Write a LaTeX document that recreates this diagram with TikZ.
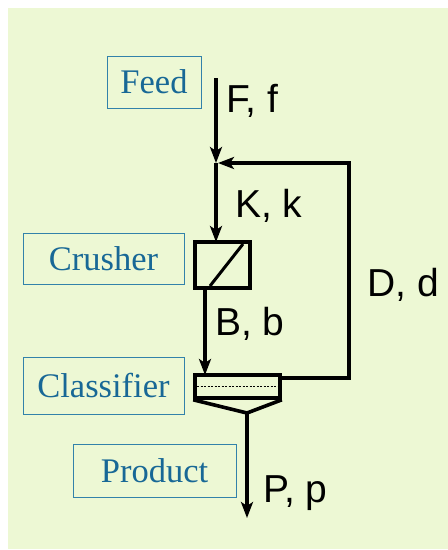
\documentclass[tikz,border=0pt]{standalone}
\usepackage{fontspec}
\setmainfont{Liberation Serif}
\newfontfamily\arialf{Liberation Sans}
\usetikzlibrary{arrows.meta}
\definecolor{bggreen}{RGB}{237,248,212}
\definecolor{tealtext}{RGB}{24,104,150}
\definecolor{tealline}{RGB}{50,130,170}
\begin{document}
\begin{tikzpicture}[x=1pt,y=-1pt,
  namebox/.style={draw=tealline,line width=0.9pt,text=tealtext,inner sep=0pt,
    font=\fontsize{34.5}{34.5}\selectfont},
  flowlabel/.style={anchor=base west,inner sep=0pt,font=\arialf\fontsize{39}{39}\selectfont},
  unit/.style={draw=black,line width=3.6pt},
  flow/.style={draw=black,line width=3.6pt,-{Stealth[length=16pt,width=12pt,inset=4pt]}},
  pipe/.style={draw=black,line width=3.6pt}]
\useasboundingbox (0,0) rectangle (448,550);
\fill[white] (0,0) rectangle (448,550);
\fill[bggreen] (8,8) rectangle (448,549);
% name boxes
\node[namebox,minimum width=94pt,minimum height=52pt] (feed) at (154,82) {Feed};
\node[namebox,minimum width=161pt,minimum height=51pt] (crusherlbl) at (103.5,258.5) {Crusher};
\node[namebox,minimum width=161pt,minimum height=57pt] (classlbl) at (103.5,385.5) {Classifier};
\node[namebox,minimum width=163pt,minimum height=53pt] (productlbl) at (154.5,470.5) {Product};
% crusher unit
\node[unit,minimum width=55pt,minimum height=46pt,inner sep=0pt] (crusher) at (222.5,265) {};
\draw[line width=3pt] (210,286) -- (243,244);
% classifier unit
\node[unit,minimum width=85pt,minimum height=23pt,inner sep=0pt] (classifier) at (237.5,386.5) {};
\draw[line width=0.7pt,dash pattern=on 2pt off 1.5pt] (197,386) -- (278,386);
\coordinate (apex) at (247,413);
\draw[line width=3.6pt,line join=miter] (classifier.south west) -- (apex) -- (classifier.south east);
% flow coordinates
\coordinate (feedtop) at (216,78);
\coordinate (junction) at (216,163);
\coordinate (junctionr) at (218,163);
\coordinate (cin) at (216,242);
\coordinate (cout) at (205,288);
\coordinate (clin) at (205,375);
\coordinate (clout) at (280,378);
\coordinate (rc1) at (349,378);
\coordinate (rc2) at (349,163);
\coordinate (prodend) at (247,518);
% connectors
\draw[flow] (feedtop) -- (junction);
\draw[flow] (junction) -- (cin);
\draw[flow] (cout) -- (clin);
\draw[flow,line join=miter] (clout) -- (rc1) -- (rc2) -- (junctionr);
\draw[flow] (apex) -- (prodend);
% flow labels
\node[flowlabel] (lf) at (226,112) {F, f};
\node[flowlabel] (lk) at (235,217) {K, k};
\node[flowlabel] (lb) at (215,335) {B, b};
\node[flowlabel] (ld) at (367,296) {D, d};
\node[flowlabel] (lp) at (263,502) {P, p};
\end{tikzpicture}
\end{document}
